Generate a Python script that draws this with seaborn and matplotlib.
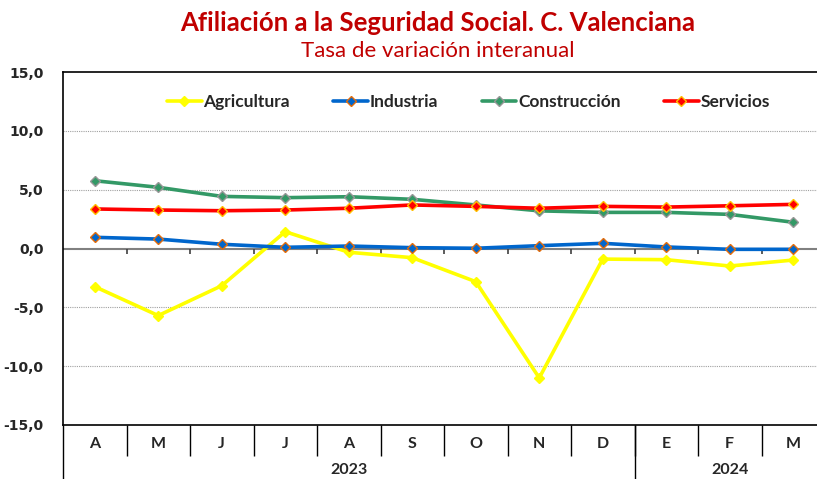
import numpy as np
import pandas as pd
import matplotlib
matplotlib.use("Agg")
import matplotlib.pyplot as plt
import matplotlib.transforms as mtransforms
import seaborn as sns

# datos (tasa de variación interanual, %)
MESES = ["A", "M", "J", "J", "A", "S", "O", "N", "D", "E", "F", "M"]
ANIOS = ["2023", "2024"]
MESES_POR_ANIO = [9, 3]

AGRICULTURA = [-3.24, -5.7, -3.16, 1.43, -0.32, -0.78, -2.82, -11.0, -0.9, -0.95, -1.49, -0.98]
INDUSTRIA = [0.95, 0.8, 0.36, 0.1, 0.21, 0.07, 0.02, 0.24, 0.44, 0.13, -0.07, -0.07]
CONSTRUCCION = [5.76, 5.2, 4.43, 4.32, 4.4, 4.18, 3.7, 3.2, 3.07, 3.07, 2.9, 2.23]
SERVICIOS = [3.36, 3.27, 3.21, 3.27, 3.42, 3.7, 3.58, 3.42, 3.58, 3.52, 3.63, 3.75]

SECTORES = ["Agricultura", "Industria", "Construcción", "Servicios"]
COLORES = {"Agricultura": "#FFFF00", "Industria": "#0066CC",
           "Construcción": "#339966", "Servicios": "#FF0000"}
BORDES = {"Agricultura": "#FFFF00", "Industria": "#E46C0A",
          "Construcción": "#969696", "Servicios": "#FFC000"}

df = pd.DataFrame({"pos": np.arange(len(MESES)),
                   "Agricultura": AGRICULTURA, "Industria": INDUSTRIA,
                   "Construcción": CONSTRUCCION, "Servicios": SERVICIOS})
df_long = df.melt(id_vars="pos", var_name="sector", value_name="tasa")

sns.set_style("white")
plt.rcParams["font.family"] = ["Lato", "DejaVu Sans"]

fig = plt.figure(figsize=(8.17, 4.79), dpi=100)
ax = fig.add_axes([63 / 817, 54 / 479, 762 / 817, 353 / 479])

for s in SECTORES:
    sns.lineplot(data=df_long[df_long.sector == s], x="pos", y="tasa", ax=ax,
                 color=COLORES[s], linewidth=2.6, marker="D", markersize=5,
                 markeredgecolor=BORDES[s], markeredgewidth=1.0, label=s)

ax.set_xlim(-0.5, len(MESES) - 0.5)
ax.set_ylim(-15, 15)
ax.set_yticks(np.arange(-15, 16, 5))
ax.set_yticklabels([f"{v:.1f}".replace(".", ",") for v in np.arange(-15, 16, 5)],
                   fontfamily="DejaVu Sans", fontweight="bold", fontsize=10)
ax.tick_params(axis="y", length=0, pad=14)

# rejilla punteada
for v in [-10, -5, 5, 10]:
    ax.axhline(v, color="#A0A0A0", linestyle=(0, (1, 1)), linewidth=0.8, zorder=0)
ax.axhline(0, color="#808080", linewidth=1.5, zorder=1)
ax.vlines(np.arange(0.5, len(MESES) - 0.5), -0.45, 0, color="#404040", linewidth=1.2, zorder=1)

for side in ["top", "left", "bottom", "right"]:
    ax.spines[side].set_color("black")
    ax.spines[side].set_linewidth(1.2)

# tabla de categorías
ax.set_xticks(df["pos"])
ax.set_xticklabels(MESES, fontweight="bold", fontsize=11.5)
ax.tick_params(axis="x", length=0, pad=9)
ax.set_xlabel("")
ax.set_ylabel("")

trans = mtransforms.blended_transform_factory(ax.transData, ax.transAxes)
ax.vlines(np.arange(0.5, len(MESES) - 0.5), -31 / 353, 0, color="black",
          linewidth=1.0, transform=trans, clip_on=False)
bordes_anio = np.cumsum([0] + MESES_POR_ANIO) - 0.5
ax.vlines(bordes_anio, -60 / 353, 0, color="black", linewidth=1.0,
          transform=trans, clip_on=False)
for i, anio in enumerate(ANIOS):
    ax.text((bordes_anio[i] + bordes_anio[i + 1]) / 2, -45 / 353, anio,
            transform=trans, ha="center", va="center", fontweight="bold",
            fontsize=11.5, clip_on=False)

leg = ax.legend(loc="upper center", bbox_to_anchor=(0.532, 0.982), ncol=4, frameon=False,
                prop={"weight": "bold", "size": 12.5}, handlelength=2.0,
                handletextpad=0.1, columnspacing=2.5)

fig.text(438 / 817, 1 - 23 / 479, "Afiliación a la Seguridad Social. C. Valenciana",
         ha="center", va="center", color="#C00000", fontweight="bold", fontsize=18.5)
fig.text(438 / 817, 1 - 51 / 479, "Tasa de variación interanual",
         ha="center", va="center", color="#C00000", fontsize=16)

fig.savefig("out.png", dpi=100)
